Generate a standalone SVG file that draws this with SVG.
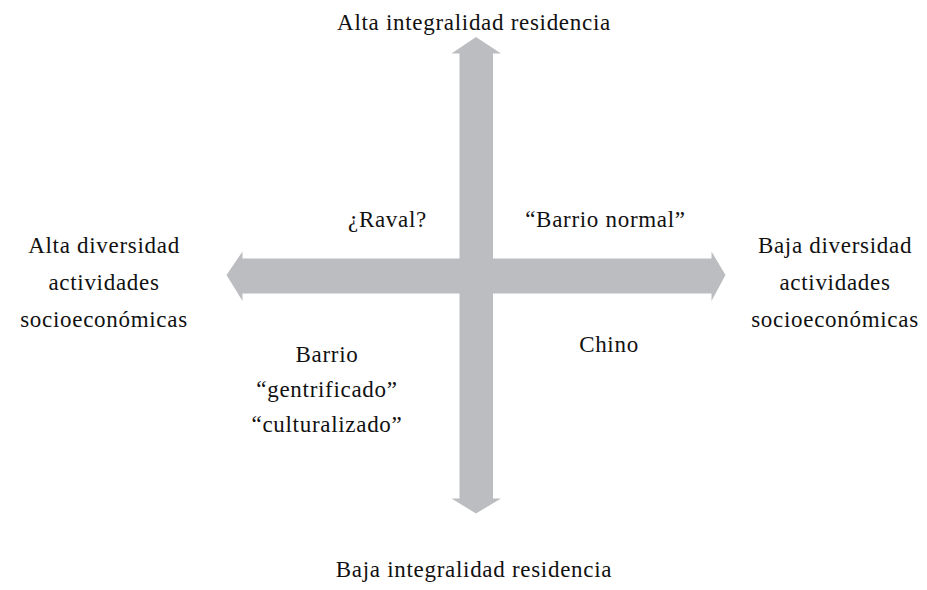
<svg xmlns="http://www.w3.org/2000/svg" width="927" height="590" viewBox="0 0 927 590">
<style>
text{font-family:"Liberation Serif","Times New Roman",serif;font-size:23px;letter-spacing:0.7px;fill:#111;text-anchor:middle}
.arr{fill:#bcbdc0}
</style>
<rect width="927" height="590" fill="#fff"/>
<g id="connectors">
<path class="arr" d="M476,37 L501,53.5 L493,53.5 L493,498.5 L501,498.5 L476,513.5 L451.5,498.5 L459.5,498.5 L459.5,53.5 L451.5,53.5 Z"/>
<path class="arr" d="M226.5,275 L242.5,251.5 L242.5,258.5 L711.5,258.5 L711.5,251.5 L725.5,275 L711.5,301 L711.5,293.5 L242.5,293.5 L242.5,301 Z"/>
</g>
<g id="top"><text x="474" y="30">Alta integralidad residencia</text></g>
<g id="bottom"><text x="474" y="577">Baja integralidad residencia</text></g>
<g id="left"><text x="104" y="253">Alta diversidad</text><text x="104" y="290">actividades</text><text x="104" y="327">socioeconómicas</text></g>
<g id="right"><text x="835" y="253">Baja diversidad</text><text x="835" y="290">actividades</text><text x="835" y="327">socioeconómicas</text></g>
<g id="raval"><text x="387.5" y="227">¿Raval?</text></g>
<g id="normal"><text x="605.5" y="227">“Barrio normal”</text></g>
<g id="gentr"><text x="327" y="362">Barrio</text><text x="327" y="397">“gentrificado”</text><text x="327" y="432">“culturalizado”</text></g>
<g id="chino"><text x="609" y="352">Chino</text></g>
</svg>
